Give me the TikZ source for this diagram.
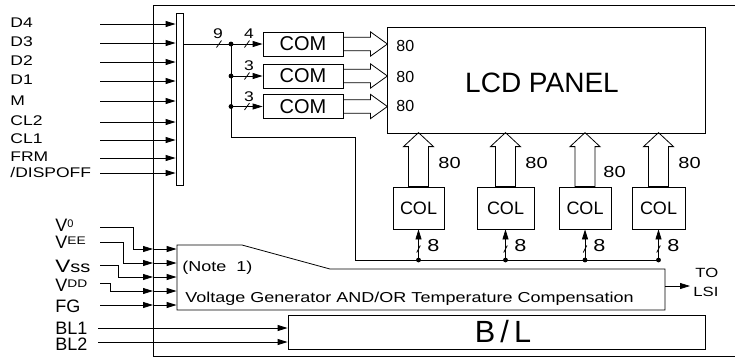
\documentclass[tikz,border=0pt]{standalone}
\usepackage{fontspec}
\setmainfont{Liberation Sans}
\newfontfamily\wf{Liberation Sans}[FakeStretch=1.25]
\usetikzlibrary{arrows.meta,calc}
\newcommand\fs[1]{\fontsize{#1}{#1}\selectfont}
\begin{document}
\begin{tikzpicture}[x=0.75pt,y=-0.75pt,line width=0.6pt,
  arr/.style={-{Triangle[length=7.5pt,width=4.5pt]}},
  box/.style={draw,inner sep=0pt},
  lbl/.style={inner sep=0pt,anchor=west},
  inlbl/.style={lbl,font=\wf\fs{10.5}},
  numlbl/.style={inner sep=0pt,font=\wf\fs{10.5}},
  jdot/.style={circle,fill,inner sep=0pt,minimum size=3.6pt},
  tick/.pic={\draw (-2.5,3.5) -- (2.5,-3.5);},
  vtick/.pic={\draw (-1.8,3.5) -- (1.8,-3.5);},
  harr/.pic={\draw (0,-6.7) -- (27,-6.7) -- (27,-12.2) -- (44,0) -- (27,12.2) -- (27,6.7) -- (0,6.7) -- cycle;},
  varr/.pic={\draw (-10,0) -- (-10,-40) -- (-15,-40) -- (0,-54) -- (15,-40) -- (10,-40) -- (10,0) -- cycle;}]
\useasboundingbox (0,0) rectangle (735,358);
% outer frame
\draw (735,5) -- (153,5) -- (153,356) -- (735,356);
% bus bar
\node[box,minimum width=5.25pt,minimum height=129pt] (bar) at (179.5,99) {};
% inputs
\foreach \n/\t/\ly/\y in {d4/D4/23/24,d3/D3/42/43,d2/D2/61/62,d1/D1/80/81,m/M/101/101,cl2/CL2/121/122,cl1/CL1/139/140,frm/FRM/157/158}{
  \node[inlbl] (\n) at (10,\ly) {\t};
  \coordinate (\n s) at (100,\y);
  \draw[arr] (\n s) -- (\n s -| bar.west);
}
\node[inlbl] (dis) at (10,172) {/DISPOFF};
\coordinate (diss) at (100,173);
\draw[arr] (diss) -- (diss -| bar.west);
% COM blocks
\node[box,minimum width=60pt,minimum height=18pt,font=\fs{15}] (com1) at (303,44) {COM};
\node[box,minimum width=60pt,minimum height=18pt,font=\fs{15}] (com2) at (303,76) {COM};
\node[box,minimum width=60pt,minimum height=18pt,font=\fs{15}] (com3) at (303,106.5) {COM};
% LCD panel
\node[box,minimum width=238.5pt,minimum height=79.5pt] (lcd) at (546,80) {};
\node[inner sep=0pt,font=\fs{21}] (lcdt) at (542,83) {LCD PANEL};
\node[lbl,font=\fs{12}] (l80a) at (396,46) {80};
\node[lbl,font=\fs{12}] (l80b) at (396,77) {80};
\node[lbl,font=\fs{12}] (l80c) at (396,106) {80};
\pic at (com1.east) {harr};
\pic at (com2.east) {harr};
\pic at (com3.east) {harr};
% bus from bar to COMs
\coordinate (j1) at (231,44);
\coordinate (j2) at (231,76);
\coordinate (j3) at (231,106.5);
\draw (bar.east |- j1) -- (j1);
\pic at (219,44) {tick};
\node[numlbl] (n9) at (218,34) {9};
\draw[arr] (j1) -- (com1.west);
\draw[arr] (j2) -- (com2.west);
\draw[arr] (j3) -- (com3.west);
\pic at (247,44) {tick};
\pic at (247,76) {tick};
\pic at (247,106.5) {tick};
\node[numlbl] (n4) at (249,34) {4};
\node[numlbl] (n3a) at (249,66) {3};
\node[numlbl] (n3b) at (249,97) {3};
% COL blocks
\node[box,minimum width=38.25pt,minimum height=31.5pt,font=\fs{13.5}] (col1) at (418.5,208) {COL};
\node[box,minimum width=42.75pt,minimum height=31.5pt,font=\fs{13.5}] (col2) at (505.5,208) {COL};
\node[box,minimum width=39pt,minimum height=31.5pt,font=\fs{13.5}] (col3) at (585,208) {COL};
\node[box,minimum width=39.75pt,minimum height=31.5pt,font=\fs{13.5}] (col4) at (658.5,208) {COL};
\pic at (col1.north) {varr};
\pic at (col2.north) {varr};
\pic at (col3.north) {varr};
\pic at (col4.north) {varr};
\node[lbl,font=\wf\fs{12}] (c80a) at (438,163) {80};
\node[lbl,font=\wf\fs{12}] (c80b) at (525,163) {80};
\node[lbl,font=\wf\fs{12}] (c80c) at (603,172) {80};
\node[lbl,font=\wf\fs{12}] (c80d) at (678,163) {80};
\coordinate (b1) at (col1.south |- 0,260);
\coordinate (b2) at (col2.south |- 0,260);
\coordinate (b3) at (col3.south |- 0,260);
\coordinate (b4) at (col4.south |- 0,260);
\draw (j1) -- (231,137) -- (355,137) -- (355,260) -- (b4);
\foreach \b/\c/\k in {b1/col1/a,b2/col2/b,b3/col3/c,b4/col4/d}{
  \draw[arr] (\b) -- (\c.south);
  \node[jdot] at (\b) {};
  \pic at ($(\b)+(0,-11)$) {vtick};
}
\foreach \j in {j1,j2,j3}{\node[jdot] at (\j) {};}
\node[lbl,font=\wf\fs{13}] (e1) at (427,246) {8};
\node[lbl,font=\wf\fs{13}] (e2) at (514,246) {8};
\node[lbl,font=\wf\fs{13}] (e3) at (593,246) {8};
\node[lbl,font=\wf\fs{13}] (e4) at (667,246) {8};
% voltage generator
\node[inner sep=0pt,minimum width=366pt,minimum height=48.75pt] (vg) at (421,277.5) {};
\draw (177,245) -- (242,245) -- (330,269) -- (665,269) -- (665,310) -- (177,310) -- cycle;
\node[inner sep=0pt,anchor=base west,font=\wf\fs{10.8}] (note) at (182,271.5) {(Note\ \ 1)};
\node[inner sep=0pt,anchor=base west,font=\wf\fs{10.8}] (vgt) at (185,302.5) {Voltage\ Generator\ AND/OR\ Temperature\ Compensation};
% voltage inputs
\node[lbl] (v0) at (55,225) {\fs{13.5}V\raisebox{2.5pt}{\fs{8.25}0}};
\node[lbl] (vee) at (55,242) {\fs{13.5}V\raisebox{2.5pt}{\wf\fs{8.25}EE}};
\node[lbl] (vss) at (55,266) {\wf\fs{13.5}V\fs{12}ss};
\node[lbl] (vdd) at (55,285) {\fs{13.5}V\raisebox{2.5pt}{\wf\fs{8.25}DD}};
\node[lbl,font=\fs{13.5}] (fg) at (55,306) {FG};
\coordinate (v0s) at (100,227);
\coordinate (vees) at (100,242);
\coordinate (vsss) at (100,265);
\coordinate (vdds) at (100,283);
\coordinate (fgs) at (100,305);
\coordinate (f1) at (153,249);
\coordinate (f2) at (153,263);
\coordinate (f3) at (153,277);
\coordinate (f4) at (153,291);
\coordinate (f5) at (153,305);
\draw[arr] (v0s) -- (133,227) -- (133,249) -- (f1);
\draw[arr] (vees) -- (123,242) -- (123,263) -- (f2);
\draw[arr] (vsss) -- (118,265) -- (118,277) -- (f3);
\draw[arr] (vdds) -- (110,283) -- (110,291) -- (f4);
\draw[arr] (fgs) -- (f5);
\foreach \f in {f1,f2,f3,f4,f5}{\draw[arr] (\f) -- (vg.west |- \f);}
% TO LSI
\coordinate (lsi) at (690,286);
\draw[arr] (vg.east |- lsi) -- (lsi);
\node[lbl,font=\wf\fs{10}] (to) at (695,273) {TO};
\node[lbl,font=\wf\fs{10}] (lsit) at (693,292) {LSI};
% B/L
\node[box,minimum width=312.75pt,minimum height=25.5pt] (bl) at (496.5,332) {};
\node[inner sep=0pt,font=\fs{23}] (blt) at (503,332) {B\,/\,L};
\node[lbl,font=\fs{13.5}] (bl1) at (55,328) {BL1};
\node[lbl,font=\fs{13.5}] (bl2) at (55,344) {BL2};
\coordinate (bl1s) at (98,328);
\coordinate (bl2s) at (98,342);
\draw[arr] (bl1s) -- (bl.west |- bl1s);
\draw[arr] (bl2s) -- (bl.west |- bl2s);
\end{tikzpicture}
\end{document}
